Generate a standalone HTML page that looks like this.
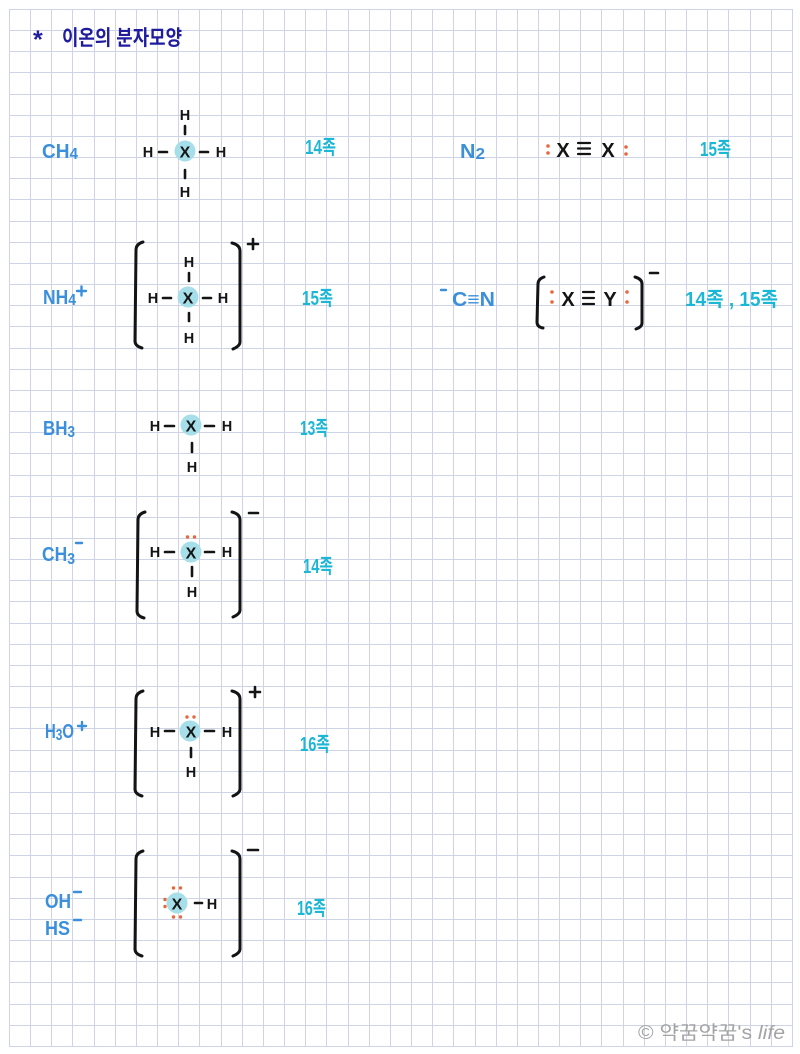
<!DOCTYPE html>
<html><head><meta charset="utf-8">
<style>
html,body{margin:0;padding:0;background:#fff;}
svg{display:block;}
text{font-family:"Liberation Sans","Noto Sans CJK KR",sans-serif;font-weight:bold;}
.k{fill:#141414;}
.b{fill:#3b8fdb;}
.c{fill:#1db7d6;}
.n{fill:#201c9e;}
.h{font-size:14.5px;fill:#141414;text-anchor:middle;}
.x{font-size:16px;fill:#141414;text-anchor:middle;}
.bd{stroke:#141414;stroke-width:2.6;stroke-linecap:round;fill:none;}
.br{stroke:#141414;stroke-width:3;stroke-linecap:round;stroke-linejoin:round;fill:none;}
.cir{fill:#a6dfea;}
.o{fill:#e8673e;}
</style></head><body>
<svg width="800" height="1054" viewBox="0 0 800 1054" xmlns="http://www.w3.org/2000/svg">
<rect width="800" height="1054" fill="#fff"/>
<path stroke="#ced3e5" stroke-width="1" fill="none" d="
M9.5 9V1046M30.5 9V1046M51.5 9V1046M72.5 9V1046M94.5 9V1046M115.5 9V1046M136.5 9V1046M157.5 9V1046M178.5 9V1046M199.5 9V1046
M221.5 9V1046M242.5 9V1046M263.5 9V1046M284.5 9V1046M305.5 9V1046M326.5 9V1046M348.5 9V1046M369.5 9V1046M390.5 9V1046M411.5 9V1046
M432.5 9V1046M453.5 9V1046M475.5 9V1046M496.5 9V1046M517.5 9V1046M538.5 9V1046M559.5 9V1046M580.5 9V1046M601.5 9V1046M623.5 9V1046
M644.5 9V1046M665.5 9V1046M686.5 9V1046M707.5 9V1046M728.5 9V1046M750.5 9V1046M771.5 9V1046M792.5 9V1046
M9 9.5H793M9 30.5H793M9 51.5H793M9 72.5H793M9 94.5H793M9 115.5H793M9 136.5H793M9 157.5H793M9 178.5H793M9 199.5H793
M9 221.5H793M9 242.5H793M9 263.5H793M9 284.5H793M9 305.5H793M9 326.5H793M9 348.5H793M9 369.5H793M9 390.5H793M9 411.5H793
M9 432.5H793M9 453.5H793M9 475.5H793M9 496.5H793M9 517.5H793M9 538.5H793M9 559.5H793M9 580.5H793M9 601.5H793M9 623.5H793
M9 644.5H793M9 665.5H793M9 686.5H793M9 707.5H793M9 728.5H793M9 750.5H793M9 771.5H793M9 792.5H793M9 813.5H793M9 834.5H793
M9 855.5H793M9 877.5H793M9 898.5H793M9 919.5H793M9 940.5H793M9 961.5H793M9 982.5H793M9 1004.5H793M9 1025.5H793M9 1046.5H793"/>

<!-- Title -->
<text x="33" y="48" class="n" style="font-size:25px">*</text>
<text x="62" y="45" class="n" style="font-size:21px" textLength="120" lengthAdjust="spacingAndGlyphs">이온의 분자모양</text>

<!-- Left labels -->
<text x="42" y="158" class="b" style="font-size:20px" textLength="36" lengthAdjust="spacingAndGlyphs">CH<tspan dy="1" style="font-size:16px">4</tspan></text>
<text x="43" y="304" class="b" style="font-size:20px" textLength="33" lengthAdjust="spacingAndGlyphs">NH<tspan dy="1" style="font-size:16px">4</tspan></text>
<path class="bd" style="stroke:#3b8fdb;stroke-width:2.4" d="M77 291H86M81.5 286.5V295.5"/>
<text x="43" y="435" class="b" style="font-size:20px" textLength="32" lengthAdjust="spacingAndGlyphs">BH<tspan dy="2" style="font-size:16px">3</tspan></text>
<text x="42" y="561" class="b" style="font-size:20px" textLength="33" lengthAdjust="spacingAndGlyphs">CH<tspan dy="3" style="font-size:16px">3</tspan></text>
<path class="bd" style="stroke:#3b8fdb;stroke-width:2.4" d="M76 543H82"/>
<text x="45" y="738" class="b" style="font-size:20px" textLength="29" lengthAdjust="spacingAndGlyphs">H<tspan dy="2" style="font-size:16px">3</tspan><tspan dy="-2">O</tspan></text>
<path class="bd" style="stroke:#3b8fdb;stroke-width:2.4" d="M78 726H86M82 722V730"/>
<text x="45" y="908" class="b" style="font-size:20px" textLength="26" lengthAdjust="spacingAndGlyphs">OH</text>
<path class="bd" style="stroke:#3b8fdb;stroke-width:2.4" d="M74 892H81"/>
<text x="45" y="935" class="b" style="font-size:20px" textLength="25" lengthAdjust="spacingAndGlyphs">HS</text>
<path class="bd" style="stroke:#3b8fdb;stroke-width:2.4" d="M74 920H81"/>

<!-- Right labels -->
<text x="460" y="158" class="b" style="font-size:20px" textLength="25" lengthAdjust="spacingAndGlyphs">N<tspan dy="1" style="font-size:16px">2</tspan></text>
<path class="bd" style="stroke:#3b8fdb;stroke-width:2.4" d="M441 290H446"/>
<text x="452" y="306" class="b" style="font-size:20px" textLength="43" lengthAdjust="spacingAndGlyphs">C≡N</text>

<!-- Group labels -->
<text x="305" y="154" class="c" style="font-size:20px" textLength="31" lengthAdjust="spacingAndGlyphs">14족</text>
<text x="302" y="305" class="c" style="font-size:20px" textLength="31" lengthAdjust="spacingAndGlyphs">15족</text>
<text x="300" y="435" class="c" style="font-size:20px" textLength="28" lengthAdjust="spacingAndGlyphs">13족</text>
<text x="303" y="573" class="c" style="font-size:20px" textLength="30" lengthAdjust="spacingAndGlyphs">14족</text>
<text x="300" y="751" class="c" style="font-size:20px" textLength="30" lengthAdjust="spacingAndGlyphs">16족</text>
<text x="297" y="915" class="c" style="font-size:20px" textLength="29" lengthAdjust="spacingAndGlyphs">16족</text>
<text x="700" y="156" class="c" style="font-size:20px" textLength="31" lengthAdjust="spacingAndGlyphs">15족</text>
<text x="685" y="306" class="c" style="font-size:20px" textLength="93" lengthAdjust="spacingAndGlyphs">14족 , 15족</text>

<!-- CH4 -->
<circle class="cir" cx="185" cy="151" r="10.5"/>
<text x="185" y="157.5" class="x">X</text>
<text x="185" y="120" class="h">H</text>
<path class="bd" d="M185 126V134M185 170V178M159 152H167M200 152H208"/>
<text x="185" y="197" class="h">H</text>
<text x="148" y="157" class="h">H</text>
<text x="221" y="157" class="h">H</text>

<!-- NH4+ -->
<path class="br" d="M143 242Q136 244 136 250L135 341Q135 346 142 348"/>
<path class="br" d="M232 243Q240 245 240 251L240 342Q240 346 233 349"/>
<path class="bd" d="M248 244H258M253 239V249"/>
<circle class="cir" cx="188" cy="297" r="10.5"/>
<text x="188" y="303.5" class="x">X</text>
<text x="189" y="267" class="h">H</text>
<path class="bd" d="M189 273V281M189 313V321M163 298H171M203 298H211"/>
<text x="189" y="343" class="h">H</text>
<text x="153" y="303" class="h">H</text>
<text x="223" y="303" class="h">H</text>

<!-- BH3 -->
<circle class="cir" cx="191" cy="425" r="10.5"/>
<text x="191" y="431.5" class="x">X</text>
<path class="bd" d="M192 443V452M165 426H174M205 426H214"/>
<text x="192" y="472" class="h">H</text>
<text x="155" y="431" class="h">H</text>
<text x="227" y="431" class="h">H</text>

<!-- CH3- -->
<path class="br" d="M145 512Q138 514 138 520L137 611Q137 616 144 618"/>
<path class="br" d="M232 512Q240 514 240 520L240 610Q240 614 233 617"/>
<path class="bd" d="M249 513H258"/>
<circle class="cir" cx="191" cy="552" r="10.5"/>
<circle class="o" cx="187.5" cy="537" r="1.7"/>
<circle class="o" cx="194.5" cy="537" r="1.7"/>
<text x="191" y="558.5" class="x">X</text>
<path class="bd" d="M192 567V576M165 552H174M205 552H214"/>
<text x="192" y="597" class="h">H</text>
<text x="155" y="557" class="h">H</text>
<text x="227" y="557" class="h">H</text>

<!-- H3O+ -->
<path class="br" d="M143 691Q136 693 136 699L135 789Q135 794 142 796"/>
<path class="br" d="M232 691Q240 693 240 699L240 789Q240 793 233 796"/>
<path class="bd" d="M250 692H260M255 687V697"/>
<circle class="cir" cx="190" cy="731" r="10.5"/>
<circle class="o" cx="187" cy="717" r="1.7"/>
<circle class="o" cx="194" cy="717" r="1.7"/>
<text x="191" y="737.5" class="x">X</text>
<path class="bd" d="M191 748V757M165 731H174M205 731H214"/>
<text x="191" y="777" class="h">H</text>
<text x="155" y="737" class="h">H</text>
<text x="227" y="737" class="h">H</text>

<!-- OH- -->
<path class="br" d="M143 851Q136 853 136 859L135 949Q135 954 142 956"/>
<path class="br" d="M232 851Q240 853 240 859L240 949Q240 953 233 956"/>
<path class="bd" d="M248 850H258"/>
<circle class="cir" cx="177" cy="903" r="10.5"/>
<circle class="o" cx="173.5" cy="888" r="1.7"/>
<circle class="o" cx="180.5" cy="888" r="1.7"/>
<circle class="o" cx="173.5" cy="917" r="1.7"/>
<circle class="o" cx="180.5" cy="917" r="1.7"/>
<circle class="o" cx="165" cy="899.5" r="1.7"/>
<circle class="o" cx="165" cy="906.5" r="1.7"/>
<text x="177" y="909.5" class="x">X</text>
<path class="bd" d="M195 903H202"/>
<text x="212" y="909" class="h">H</text>

<!-- N2 -->
<circle class="o" cx="548" cy="146" r="1.8"/>
<circle class="o" cx="548" cy="153" r="1.8"/>
<text x="563" y="157" class="x" style="font-size:20px">X</text>
<path class="bd" style="stroke-width:2.2" d="M578 143H590M578 148.5H590M578 154H590"/>
<text x="608" y="157" class="x" style="font-size:20px">X</text>
<circle class="o" cx="626" cy="147" r="1.8"/>
<circle class="o" cx="626" cy="154" r="1.8"/>

<!-- CN- -->
<path class="br" d="M544 277Q538 279 538 284L537 322Q537 327 543 328"/>
<path class="br" d="M635 277Q642 279 642 284L642 323Q642 327 636 329"/>
<path class="bd" d="M650 273H658"/>
<circle class="o" cx="552" cy="292" r="1.8"/>
<circle class="o" cx="552" cy="302" r="1.8"/>
<text x="568" y="306" class="x" style="font-size:20px">X</text>
<path class="bd" style="stroke-width:2.2" d="M583 292H594M583 298H594M583 304H594"/>
<text x="610" y="306" class="x" style="font-size:20px">Y</text>
<circle class="o" cx="627" cy="292" r="1.8"/>
<circle class="o" cx="627" cy="302" r="1.8"/>

<!-- Watermark -->
<text x="638" y="1039" style="font-size:19px;font-weight:normal;fill:#a4a4a4" textLength="147" lengthAdjust="spacingAndGlyphs">© 약꿈약꿈's <tspan style="font-style:italic">life</tspan></text>
</svg>
</body></html>
